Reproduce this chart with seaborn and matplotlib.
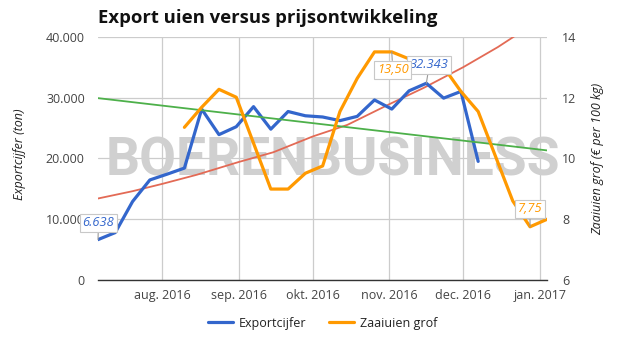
import numpy as np
import pandas as pd
import matplotlib
matplotlib.use("Agg")
import matplotlib.pyplot as plt
import matplotlib.dates as mdates
import seaborn as sns

# ---------------- data ----------------
week_start = "2016-07-06"
n_weeks = 27
export_ton = [6638, 7800, 12900, 16450, 17400, 18400, 28100, 23900, 25200, 28500,
              24800, 27700, 27000, 26800, 26200, 26900, 29600, 28100, 31100, 32343,
              29900, 31000, 19500]
price_first_week = 5
price_eur = [11.02, 11.68, 12.27, 12.01, 10.50, 8.99, 8.99, 9.51, 9.75, 11.54,
             12.63, 13.50, 13.50, 13.27, 13.20, 13.00, 12.20, 11.54, 10.07, 8.60,
             7.75, 8.00]

# trend lines
trend_export_dates = ["2016-07-06", "2016-07-20", "2016-08-01", "2016-08-15", "2016-09-01",
                      "2016-09-15", "2016-10-01", "2016-10-15", "2016-11-01", "2016-11-15",
                      "2016-12-01", "2016-12-15", "2017-01-04"]
trend_export_vals = [13400, 14600, 15800, 17300, 19400, 21000, 23600, 25500, 28900,
                     31600, 35000, 38300, 43600]
trend_price_dates = ["2016-07-06", "2017-01-04"]
trend_price_vals = [11.98, 10.26]

month_ticks = ["2016-08-01", "2016-09-01", "2016-10-01", "2016-11-01", "2016-12-01", "2017-01-01"]
month_labels = ["aug. 2016", "sep. 2016", "okt. 2016", "nov. 2016", "dec. 2016", "jan. 2017"]
left_ticks = [0, 10000, 20000, 30000, 40000]
left_labels = ["0", "10.000", "20.000", "30.000", "40.000"]
right_ticks = [6, 8, 10, 12, 14]
right_labels = ["6", "8", "10", "12", "14"]

title = "Export uien versus prijsontwikkeling"
series_names = ["Exportcijfer", "Zaaiuien grof"]
left_title = "Exportcijfer (ton)"
right_title = "Zaaiuien grof (€ per 100 kg)"
watermark = "BOERENBUSINESS"

weeks = pd.date_range(week_start, periods=n_weeks, freq="7D")
df_exp = pd.DataFrame({"date": weeks[:len(export_ton)], "value": export_ton})
df_pr = pd.DataFrame({"date": weeks[price_first_week:price_first_week + len(price_eur)],
                      "value": price_eur})
df_te = pd.DataFrame({"date": pd.to_datetime(trend_export_dates), "value": trend_export_vals})
df_tp = pd.DataFrame({"date": pd.to_datetime(trend_price_dates), "value": trend_price_vals})

# ---------------- style ----------------
sns.set_theme(style="white")
plt.rcParams["font.family"] = ["Open Sans", "DejaVu Sans"]

BLUE = "#3366cc"
ORANGE = "#ff9900"
GREEN = "#4db04a"
RED = "#e36a55"
GRID = "#cccccc"
TICKC = "#444444"

W, H = 618, 341
fig = plt.figure(figsize=(W / 100, H / 100), dpi=100)
L, R, T, B = 98, 547.3, 36.7, 280
ax = fig.add_axes([L / W, 1 - B / H, (R - L) / W, (B - T) / H])
ax2 = ax.twinx()

# lines
sns.lineplot(data=df_te, x="date", y="value", ax=ax, color=RED, lw=1.3, zorder=3)
sns.lineplot(data=df_exp, x="date", y="value", ax=ax, color=BLUE, lw=2.3, zorder=4)
sns.lineplot(data=df_tp, x="date", y="value", ax=ax2, color=GREEN, lw=1.3, zorder=3)
sns.lineplot(data=df_pr, x="date", y="value", ax=ax2, color=ORANGE, lw=2.3, zorder=4)

ax.set_xlim(weeks[0], weeks[-1])
ax.set_ylim(0, 40000)
ax2.set_ylim(6, 14)

ax.set_xticks(pd.to_datetime(month_ticks))
ax.set_xticklabels(month_labels)
ax.set_yticks(left_ticks)
ax.set_yticklabels(left_labels)
ax2.set_yticks(right_ticks)
ax2.set_yticklabels(right_labels)

for a in (ax, ax2):
    a.set_xlabel("")
    a.set_ylabel("")
    for s in a.spines.values():
        s.set_visible(False)
    a.tick_params(length=0, labelsize=9, labelcolor=TICKC)
ax.tick_params(axis="y", pad=9.5)
ax2.tick_params(axis="y", pad=10.5)
ax.tick_params(axis="x", pad=6.5)
ax.spines["bottom"].set_visible(True)
ax.spines["bottom"].set_color("#333333")
ax.spines["bottom"].set_linewidth(1.0)
ax.spines["bottom"].set_zorder(5)

ax.grid(True, color=GRID, lw=0.9)
ax.set_axisbelow(True)
ax2.grid(False)

# watermark
ax.text(333 / W, 1 - 176 / H, watermark, transform=fig.transFigure,
        ha="center", va="baseline", fontsize=38.5, fontweight="bold",
        family=["Roboto", "DejaVu Sans"], color="#d0d0d0", zorder=2)

# annotations
box = dict(boxstyle="square,pad=0.2", fc="white", ec="#c8c8c8", lw=0.8)
arr = dict(arrowstyle="-", color="#999999", lw=0.8, shrinkA=0, shrinkB=0)

def note(text, date, val, dx, dy, color, coords):
    ax2.annotate(text, xy=(mdates.date2num(date), val), xycoords=coords, xytext=(dx, dy),
                 textcoords="offset pixels", ha="center", va="center",
                 fontsize=9.3, fontstyle="italic", color=color, bbox=box,
                 arrowprops=arr, zorder=10, annotation_clip=False)

note("6.638", df_exp["date"].iloc[0], export_ton[0], 0.5, 17, BLUE, ax.transData)
note("32.343", df_exp["date"].iloc[19], export_ton[19], 3, 18.5, BLUE, ax.transData)
note("13,50", df_pr["date"].iloc[12], price_eur[12], 1, -18, ORANGE, ax2.transData)
note("7,75", df_pr["date"].iloc[20], price_eur[20], 0, 18, ORANGE, ax2.transData)

# titles
fig.text(L / W, 1 - 23 / H, title, ha="left", va="baseline", fontsize=13.3,
         fontweight="bold", color="#111111")
fig.text(20 / W, 1 - 154 / H, left_title, rotation=90, ha="center", va="center",
         fontsize=9, fontstyle="italic", color="#222222")
fig.text(598 / W, 1 - 158.5 / H, right_title, rotation=90, ha="center", va="center",
         fontsize=9, fontstyle="italic", color="#222222")

# legend
h1 = plt.Line2D([], [], color=BLUE, lw=2.3)
h2 = plt.Line2D([], [], color=ORANGE, lw=2.3)
fig.legend([h1, h2], series_names, loc="center", bbox_to_anchor=(322.5 / W, 1 - 323 / H),
           ncol=2, frameon=False, fontsize=9, handlelength=2.0, handletextpad=0.45,
           columnspacing=1.8, labelcolor="#222222")

fig.savefig("out.png", dpi=100)
